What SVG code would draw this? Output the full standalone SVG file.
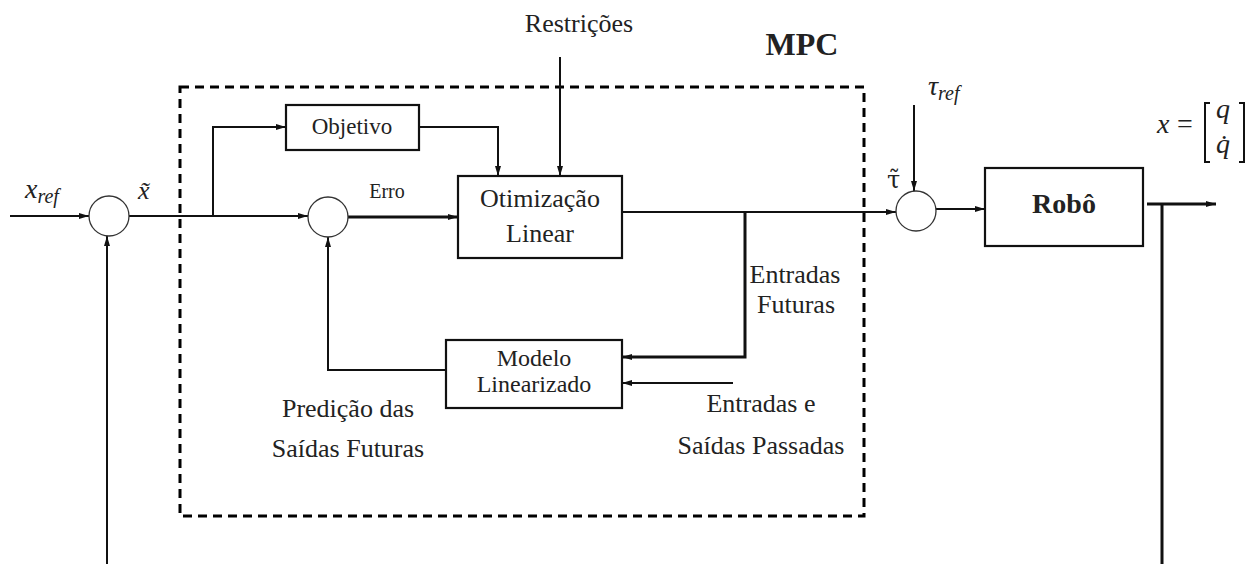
<svg xmlns="http://www.w3.org/2000/svg" width="1257" height="564" viewBox="0 0 1257 564">
<defs>
<marker id="ah" viewBox="0 0 10 6" refX="10" refY="3" markerWidth="10" markerHeight="6" markerUnits="userSpaceOnUse" orient="auto"><path d="M0,0 L10,3 L0,6 z" fill="#111"/></marker>
</defs>
<style>
text{font-family:'Liberation Serif','DejaVu Serif',serif;fill:#222;}
.m{font-style:italic;}
.c{text-anchor:middle;}
.b{font-weight:bold;}
.dv{font-family:'DejaVu Serif',serif;}
.ln{fill:none;stroke:#111;stroke-width:2;}
.thk{stroke-width:3;}
.box{fill:#fff;stroke:#111;stroke-width:2.2;}
.sum{fill:#fff;stroke:#333;stroke-width:1.3;}
.arr{marker-end:url(#ah);}
</style>
<rect id="mpc-frame" x="180" y="87" width="684" height="429" fill="none" stroke="#000" stroke-width="3" stroke-dasharray="9 6"/>
<g id="connectors">
<path class="ln arr" d="M10,216 L89,216"/>
<path class="ln arr" d="M129,216 L308,216"/>
<path class="ln arr" d="M213,216 L213,127 L286,127"/>
<path class="ln arr" d="M419,127 L498,127 L498,176"/>
<path class="ln arr" d="M560,57 L560,176"/>
<path class="ln thk arr" d="M348,217 L458,217"/>
<path class="ln arr" d="M622,212 L896,212"/>
<path class="ln thk arr" d="M745,212 L745,357 L622,357"/>
<path class="ln arr" d="M733,383 L622,383"/>
<path class="ln arr" d="M446,370 L328,370 L328,237"/>
<path class="ln arr" d="M914,105 L914,191"/>
<path class="ln arr" d="M936,209 L985,209"/>
<path class="ln thk arr" d="M1147,204 L1216,204"/>
<path class="ln thk" d="M1162,204 L1162,564"/>
<path class="ln arr" d="M107,564 L107,236"/>
</g>
<g id="sum1"><circle class="sum" cx="109" cy="216" r="20"/></g>
<g id="sum2"><circle class="sum" cx="328" cy="217" r="20"/></g>
<g id="sum3"><circle class="sum" cx="916" cy="211" r="20"/></g>
<g id="objetivo"><rect class="box" x="286" y="105" width="133" height="45"/><text class="c" x="352" y="134" font-size="23">Objetivo</text></g>
<g id="otimizacao"><rect class="box" x="458" y="176" width="164" height="82"/><text class="c" x="540" y="207" font-size="26">Otimização</text><text class="c" x="540" y="242" font-size="26">Linear</text></g>
<g id="modelo"><rect class="box" x="446" y="340" width="176" height="68"/><text class="c" x="534" y="366" font-size="24">Modelo</text><text class="c" x="534" y="392" font-size="24">Linearizado</text></g>
<g id="robo"><rect class="box" x="985" y="168" width="158" height="78" stroke-width="3"/><text class="c b" x="1064" y="213" font-size="28">Robô</text></g>
<g id="labels">
<text class="c" x="579" y="32" font-size="26">Restrições</text>
<text class="c b" x="802" y="55" font-size="32">MPC</text>
<text class="c" x="387" y="198" font-size="20">Erro</text>
<text class="c" x="795" y="283" font-size="26">Entradas</text>
<text class="c" x="796" y="313" font-size="26">Futuras</text>
<text class="c" x="761" y="412" font-size="26">Entradas e</text>
<text class="c" x="761" y="454" font-size="26">Saídas Passadas</text>
<text class="c" x="348" y="417" font-size="26">Predição das</text>
<text class="c" x="348" y="457" font-size="26">Saídas Futuras</text>
<text class="m" x="25" y="198" font-size="28">x<tspan font-size="20" dy="5">ref</tspan></text>
<text class="m" x="138" y="199" font-size="26">x̃</text>
<text class="dv" x="887" y="188" font-size="24">τ̃</text>
<text class="m" x="928" y="95" font-size="28">τ<tspan font-size="20" dy="5">ref</tspan></text>
<text class="m" x="1157" y="133" font-size="28">x</text>
<text x="1177" y="133" font-size="28">=</text>
<text class="m" x="1216" y="118" font-size="28">q</text>
<text class="m" x="1216" y="153" font-size="28">q̇</text>
<path class="ln" d="M1210,103 L1205,103 L1205,162 L1210,162 M1239,103 L1244,103 L1244,162 L1239,162" stroke-width="1.6"/>
</g>
</svg>
